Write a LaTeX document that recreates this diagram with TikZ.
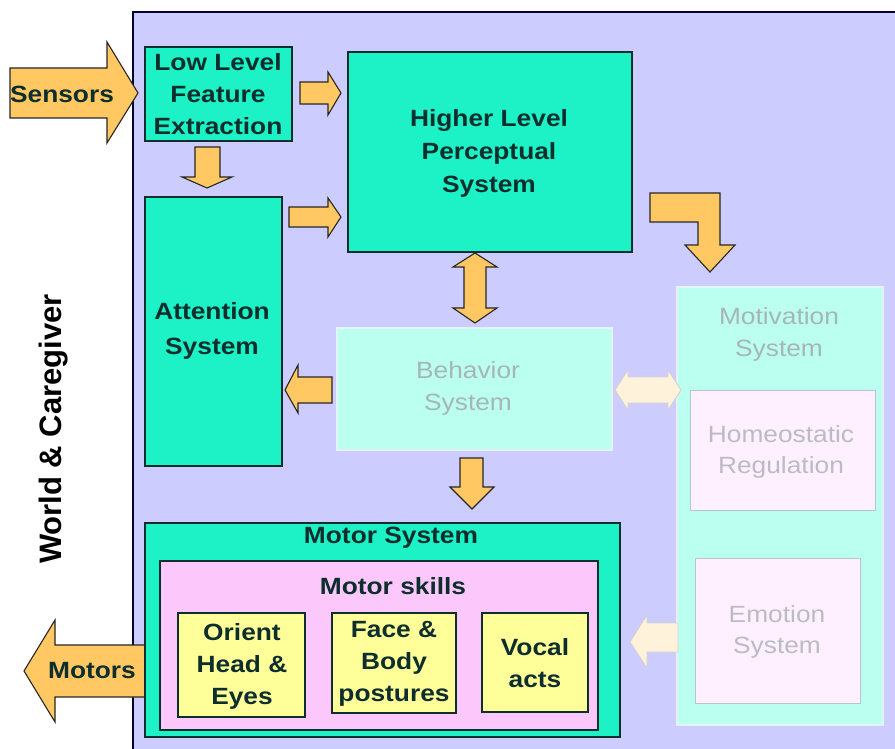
\documentclass[tikz,border=0pt]{standalone}
\usepackage{fontspec}
\setmainfont{Liberation Sans}[FakeStretch=1.12]
\newfontfamily\wcfont{Liberation Sans}
\definecolor{lav}{HTML}{CCCCFF}
\definecolor{teal1}{HTML}{1CF2C6}
\definecolor{paleteal}{HTML}{BBFFF0}
\definecolor{palepink}{HTML}{FFF0FF}
\definecolor{pink1}{HTML}{FCC8FC}
\definecolor{yel}{HTML}{FFFF99}
\definecolor{orng}{HTML}{FFC862}
\definecolor{paleorng}{HTML}{FFF2DA}
\definecolor{dk}{HTML}{0E2E2E}
\definecolor{gtext}{HTML}{A6B6B8}
\definecolor{gtext2}{HTML}{BBBBC6}
\definecolor{lightedge}{HTML}{E4F4F4}
\begin{document}
\begin{tikzpicture}[x=1pt,y=-1pt,
  every node/.style={inner sep=0pt, outer sep=0pt},
  box/.style={rectangle, draw=dk, line width=2.4pt, anchor=north west},
  softbox/.style={rectangle, draw=lightedge, line width=2pt, anchor=north west},
  innersoft/.style={rectangle, draw=gtext!80, line width=1pt, anchor=north west, fill=palepink},
  lbl/.style={font=\fontsize{23.5}{32}\selectfont\bfseries, text=dk, align=center},
  glbl/.style={font=\fontsize{23.5}{32}\selectfont, text=gtext, align=center},
  glbltwo/.style={font=\fontsize{23.5}{31}\selectfont, text=gtext2, align=center},
  barrow/.style={fill=orng, draw=black!85, line width=1.1pt, line join=miter},
  parrow/.style={fill=paleorng, draw=black!18, line width=0.8pt},
]
\useasboundingbox (0,0) rectangle (895,749);
\fill[white] (0,0) rectangle (895,749);
% outer frame
\draw[fill=lav, draw=black!80!blue, line width=2.4pt] (133,12) rectangle (912,775);

% world label
\node[rotate=90, font=\wcfont\fontsize{31}{31}\selectfont\bfseries, text=black] (world) at (54,429) {World \& Caregiver};

% sensors arrow
\draw[barrow] (10,68) -- (107,68) -- (107,42) -- (138,93) -- (107,143) -- (107,118) -- (10,118) -- cycle;
\node[lbl] (sens) at (62,94) {Sensors};

% motors arrow
\draw[barrow] (148,645) -- (55,645) -- (55,620) -- (24,671) -- (55,722) -- (55,697) -- (148,697) -- cycle;
\node[lbl] (motors) at (92,671) {Motors};

% boxes
\node[box, fill=teal1, minimum width=147pt, minimum height=94pt] (low) at (145,47) {};
\node[lbl] (lowt) at (218,94) {Low Level\\Feature\\Extraction};

\node[box, fill=teal1, minimum width=284pt, minimum height=200pt] (high) at (348,52) {};
\node[lbl, font=\fontsize{23.5}{33}\selectfont\bfseries] (hight) at (489,153) {Higher Level\\Perceptual\\System};

\node[box, fill=teal1, minimum width=137pt, minimum height=269pt] (att) at (145,197) {};
\node[lbl, font=\fontsize{23.5}{35}\selectfont\bfseries] (attt) at (212,331) {Attention\\System};

\node[softbox, fill=paleteal, minimum width=275pt, minimum height=122pt] (beh) at (337,328) {};
\node[glbl] (beht) at (468,388) {Behavior\\System};

\node[softbox, fill=paleteal, minimum width=206pt, minimum height=438pt] (mot) at (677,287) {};
\node[glbl] (mott) at (779,334) {Motivation\\System};

\node[innersoft, minimum width=185pt, minimum height=120pt] (hom) at (690,390) {};
\node[glbltwo] (homt) at (781,452) {Homeostatic\\Regulation};

\node[innersoft, minimum width=165pt, minimum height=145pt] (emo) at (695,558) {};
\node[glbltwo] (emot) at (777,632) {Emotion\\System};

\node[box, fill=teal1, minimum width=475pt, minimum height=214pt] (msys) at (145,523) {};
\node[lbl] (msyst) at (391,538) {Motor System};

\node[box, fill=pink1, minimum width=438pt, minimum height=169pt] (mskill) at (160,561) {};
\node[lbl] (mskillt) at (393,586) {Motor skills};

\node[box, fill=yel, minimum width=127pt, minimum height=104pt] (orient) at (178,613) {};
\node[lbl] (orientt) at (242,666) {Orient\\Head \&\\Eyes};

\node[box, fill=yel, minimum width=124pt, minimum height=100pt] (face) at (332,613) {};
\node[lbl] (facet) at (394,664) {Face \&\\Body\\postures};

\node[box, fill=yel, minimum width=106pt, minimum height=99pt] (vocal) at (482,613) {};
\node[lbl] (vocalt) at (535,663) {Vocal\\acts};

% block arrows
% low -> high
\draw[barrow] (300,82) -- (328,82) -- (328,72) -- (341,93) -- (328,115) -- (328,104) -- (300,104) -- cycle;
% low -> attention
\draw[barrow] (195,147) -- (220,147) -- (220,177) -- (232,177) -- (207,188) -- (182,177) -- (195,177) -- cycle;
% attention -> high
\draw[barrow] (289,207) -- (328,207) -- (328,198) -- (341,217) -- (328,237) -- (328,227) -- (289,227) -- cycle;
% high <-> behavior
\draw[barrow] (475,253) -- (497,267) -- (486,267) -- (486,308) -- (497,308) -- (475,323) -- (453,308) -- (464,308) -- (464,267) -- (453,267) -- cycle;
% behavior -> attention
\draw[barrow] (332,377) -- (298,377) -- (298,365) -- (285,390) -- (298,413) -- (298,403) -- (332,403) -- cycle;
% behavior -> motor
\draw[barrow] (460,458) -- (483,458) -- (483,487) -- (494,487) -- (472,509) -- (450,487) -- (460,487) -- cycle;
% high -> motivation (bent)
\draw[barrow] (650,193) -- (720,193) -- (720,245) -- (735,245) -- (710,272) -- (685,245) -- (698,245) -- (698,222) -- (650,222) -- cycle;
% behavior <-> motivation
\draw[parrow] (615,390) -- (628,370) -- (628,377) -- (668,377) -- (668,370) -- (681,390) -- (668,410) -- (668,403) -- (628,403) -- (628,410) -- cycle;
% emotion -> motor
\draw[parrow] (678,623) -- (647,623) -- (647,615) -- (630,642) -- (647,668) -- (647,652) -- (678,652) -- cycle;
\end{tikzpicture}
\end{document}
